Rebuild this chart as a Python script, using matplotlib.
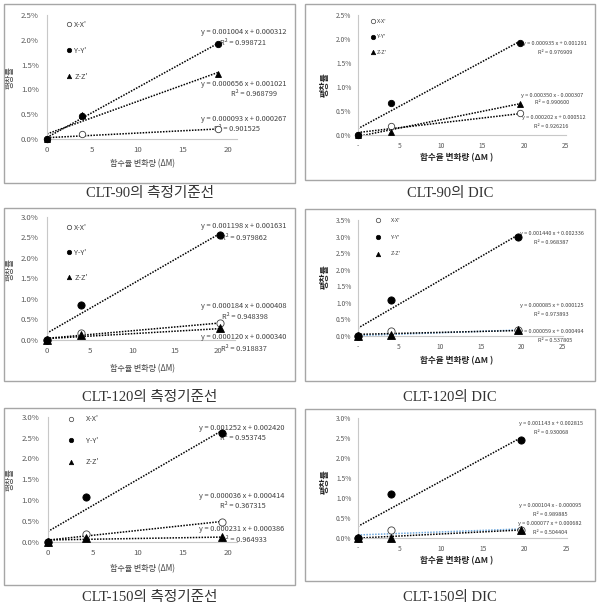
import matplotlib
matplotlib.use('Agg')
import matplotlib.pyplot as plt
from matplotlib.patches import Rectangle
from matplotlib.lines import Line2D
from matplotlib.ticker import FuncFormatter
import numpy as np

plt.rcParams['font.family'] = ['Noto Sans CJK KR', 'DejaVu Sans']

# 그래프 제목 (캡션)
captions = ['CLT-90의 측정기준선', 'CLT-90의 DIC',
            'CLT-120의 측정기준선', 'CLT-120의 DIC',
            'CLT-150의 측정기준선', 'CLT-150의 DIC']
series_names = ["X-X'", "Y-Y'", "Z-Z'"]

# 함수율 변화량 (ΔM)
dm = [[0, 3.9, 18.9], [0, 4.0, 19.5],
      [0, 4.0, 20.3], [0, 4.0, 19.5],
      [0, 4.2, 19.4], [0, 4.0, 19.5]]

# 팽창률
exp_x = [[0, 0.0010, 0.0020], [0, 0.0019, 0.0045],
         [0, 0.0016, 0.0041], [0, 0.0015, 0.0017],
         [0, 0.0019, 0.0047], [0, 0.0020, 0.0019]]
exp_y = [[0, 0.0046, 0.0192], [0, 0.0066, 0.0192],
         [0, 0.0085, 0.0255], [0, 0.0110, 0.0300],
         [0, 0.0108, 0.0260], [0, 0.0109, 0.0245]]
exp_z = [[0, 0.0048, 0.0131], [0, 0.0007, 0.0065],
         [0, 0.0011, 0.0028], [0, 0.0003, 0.0018],
         [0, 0.0010, 0.0011], [0, 0.0000, 0.0020]]

# 추세선 (기울기, 절편, R²)  순서: X, Y, Z
slopes = [[0.000093, 0.001004, 0.000656], [0.000202, 0.000935, 0.000350],
          [0.000184, 0.001198, 0.000120], [0.000085, 0.001440, 0.000059],
          [0.000231, 0.001252, 0.000036], [0.000077, 0.001143, 0.000104]]
icpts = [[0.000267, 0.000312, 0.001021], [0.000512, 0.001291, -0.000307],
         [0.000408, 0.001631, 0.000340], [0.000125, 0.002336, 0.000494],
         [0.000386, 0.002420, 0.000414], [0.000682, 0.002815, -0.000095]]
r2s = [[0.901525, 0.998721, 0.968799], [0.926216, 0.976909, 0.990600],
       [0.948398, 0.979862, 0.918837], [0.973893, 0.968387, 0.537805],
       [0.964933, 0.953745, 0.367315], [0.504404, 0.930068, 0.989885]]

W, H = 601, 611
fig = plt.figure(figsize=(W / 100, H / 100), dpi=100)
fig.patch.set_facecolor('white')


def fx(px):
    return px / W


def fy(py):
    return 1 - py / H


# 레이아웃 (픽셀): 축 영역, 축 범위, 박스, 라벨 위치
ax_px = [(47, 237, 15, 139), (357.7, 565.7, 15, 135),
         (46.7, 234.8, 216.7, 340), (357.7, 562.7, 220, 336),
         (47.7, 236.7, 416.7, 541.7), (357.7, 566.7, 418.3, 537.7)]
xmax = [21, 25, 22, 25, 21, 25]
ymax = [0.025, 0.025, 0.03, 0.035, 0.03, 0.03]
boxes = [(4, 295, 4, 183), (305, 595, 4, 180),
         (4, 295, 208, 381), (305, 595, 209, 381),
         (4, 295, 408, 585), (305, 595, 409, 581)]
cap_pos = [(150, 193), (450, 193), (150, 397), (450, 397), (150, 598), (450, 598)]
xlab_pos = [(143, 164), (457, 158), (143, 369), (457, 361), (143, 569), (457, 561)]
ylab_pos = [(10, 78), (325, 85), (10, 270), (325, 277), (10, 480), (325, 482)]
# 수식 라벨 위치: (eq_x, eq_y, r2_x, r2_y) X, Y, Z
lab_pos = [
    [(243.7, 119, 237, 129), (243.7, 32, 243, 43), (243.7, 84, 254, 94)],
    [(553.7, 118, 551, 127), (555, 43, 555, 52), (552, 95, 552, 103)],
    [(243.7, 306, 245, 317), (243.7, 226, 244, 238), (243.7, 337, 244, 349)],
    [(551.3, 305, 551, 314), (552, 234, 551, 243), (552, 332, 555, 341)],
    [(242, 529, 244, 540), (241.3, 428, 242.5, 438), (241.7, 496, 243.3, 506)],
    [(550, 524, 549.7, 533), (551.3, 424, 551, 433), (549.7, 505, 550, 514)],
]
# 범례: (마커 x, 가운데 y, 간격, 텍스트 간격) / None
leg_pos = [(69, 50.7, 25.5, 0.3), (373, 37, 16, 0.3),
           (69, 252.7, 24.5, 0.3), (377.7, 237.3, 17.2, 2.0),
           (71, 440.8, 20.8, 1.6), None]

markers = ['o', 'o', '^']
faces = ['white', 'black', 'black']

for i in range(6):
    dic = (i % 2 == 1)
    l, r, t, b = ax_px[i]
    ax = fig.add_axes([fx(l), fy(b), (r - l) / W, (b - t) / H])
    ax.set_xlim(0, xmax[i])
    ax.set_ylim(0, ymax[i])
    ax.set_facecolor('none')
    for s in ['top', 'right']:
        ax.spines[s].set_visible(False)
    for s in ['left', 'bottom']:
        ax.spines[s].set_color('#c8c8c8')
        ax.spines[s].set_linewidth(0.8)

    tick_fs = 4.8 if dic else 5.6
    eq_fs = 4.0 if dic else 5.3
    if dic:
        ax.set_xticks([0, 5, 10, 15, 20, 25])
        ax.set_xticklabels(['-', '5', '10', '15', '20', '25'])
    else:
        ax.set_xticks([0, 5, 10, 15, 20])
    ax.set_yticks(np.arange(0, ymax[i] + 1e-9, 0.005))
    ax.yaxis.set_major_formatter(FuncFormatter(lambda v, p: f'{v * 100:.1f}%'))
    ax.tick_params(length=0, labelsize=tick_fs, colors='#595959')
    ax.tick_params(axis='y', pad=6 if not dic else 4.5)
    ax.tick_params(axis='x', pad=5)

    data = [exp_x[i], exp_y[i], exp_z[i]]
    for k in range(3):
        xs = np.array([0, dm[i][-1]])
        col = '#6fa8dc' if (dic and i > 1 and k == 0) else 'black'
        ax.plot(xs, slopes[i][k] * xs + icpts[i][k], color=col, lw=1.1,
                linestyle=(0, (1, 0.9)), zorder=2)
    for k in range(3):
        ms = 4.6 if i == 0 or i == 1 else 5.2
        ax.plot(dm[i], data[k], linestyle='none', marker=markers[k], ms=ms,
                mfc=faces[k], mec='black' if k else '#404040', mew=0.6,
                zorder=4, clip_on=False)

    # 수식 라벨
    for k in range(3):
        ex, ey, rx, ry = lab_pos[i][k]
        s, c = slopes[i][k], icpts[i][k]
        sign = '-' if c < 0 else '+'
        ax.text(fx(ex), fy(ey), f'y = {s:.6f} x {sign} {abs(c):.6f}',
                transform=fig.transFigure, ha='center', va='center',
                fontsize=eq_fs, color='#404040', zorder=3)
        ax.text(fx(rx), fy(ry), f'R² = {r2s[i][k]:.6f}',
                transform=fig.transFigure, ha='center', va='center',
                fontsize=eq_fs, color='#404040', zorder=3)

    # 범례
    if leg_pos[i] is not None:
        mx, my, sp, tp = leg_pos[i]
        fs_px = eq_fs * 100 / 72
        hl = 0.8
        handles = [Line2D([], [], linestyle='none', marker=markers[k], ms=3.2,
                          mfc=faces[k], mec='black' if k else '#404040', mew=0.5)
                   for k in range(3)]
        ax.legend(handles, series_names, loc='center left',
                  bbox_to_anchor=(fx(mx - hl * fs_px / 2), fy(my)),
                  bbox_transform=fig.transFigure, frameon=False,
                  fontsize=eq_fs, handlelength=hl, handletextpad=tp,
                  labelspacing=(sp - fs_px) / fs_px, borderpad=0,
                  borderaxespad=0, labelcolor='#404040')

    # 축 제목
    xl, yl = xlab_pos[i]
    fig.text(fx(xl), fy(yl), '함수율 변화량 (ΔM )' if dic else '함수율 변화량 (ΔM)',
             ha='center', va='center', fontsize=6.2 if dic else 5.8,
             fontweight='bold' if dic else 'normal',
             color='#262626' if dic else '#404040')
    xl, yl = ylab_pos[i]
    fig.text(fx(xl), fy(yl), '팽창률', rotation=90, ha='center', va='center',
             fontsize=6.5 if dic else 6, fontweight='bold' if dic else 'normal',
             color='#262626' if dic else '#404040')

    # 테두리와 캡션
    bl, br, bt, bb = boxes[i]
    fig.patches.append(Rectangle((fx(bl), fy(bb)), (br - bl) / W, (bb - bt) / H,
                                 transform=fig.transFigure, fill=False,
                                 edgecolor='#a6a6a6', lw=1.0))
    cx, cy = cap_pos[i]
    fig.text(fx(cx), fy(cy), captions[i], ha='center', va='center',
             fontsize=10.5, color='#333333',
             family=['Liberation Serif', 'Noto Sans CJK KR'])

fig.savefig('out.png', dpi=100, facecolor='white')
